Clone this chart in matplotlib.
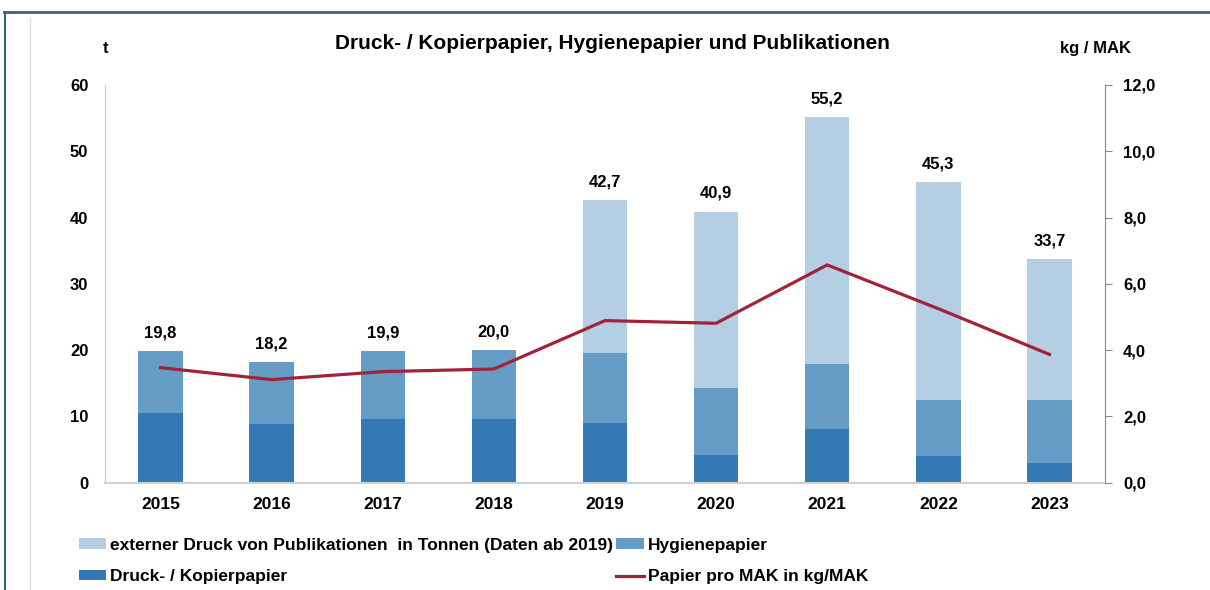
import matplotlib.pyplot as plt
from matplotlib.lines import Line2D
import numpy as np

plt.rcParams['font.family'] = ['Liberation Sans', 'DejaVu Sans']
plt.rcParams['font.weight'] = 'bold'

# data
years = ['2015', '2016', '2017', '2018', '2019', '2020', '2021', '2022', '2023']
totals = [19.8, 18.2, 19.9, 20.0, 42.7, 40.9, 55.2, 45.3, 33.7]
druck = [10.5, 8.85, 9.55, 9.65, 9.05, 4.2, 8.15, 4.1, 2.9]
hygiene_top = [19.8, 18.2, 19.9, 20.0, 19.5, 14.35, 17.85, 12.4, 12.5]
papier_mak = [3.47, 3.11, 3.35, 3.43, 4.89, 4.81, 6.57, 5.25, 3.87]

c_ext = '#B4CEE3'
c_hyg = '#669DC7'
c_druck = '#3479B3'
c_line = '#A0233A'

druck = np.array(druck)
hygiene = np.array(hygiene_top) - druck
extern = np.array(totals) - np.array(hygiene_top)

fig = plt.figure(figsize=(12.1, 5.9), dpi=100)
ax = fig.add_axes([0.0868, 0.1819, 0.8264, 0.6741])
x = np.arange(len(years))
w = 0.4

ax.bar(x, druck, w, color=c_druck, label='Druck- / Kopierpapier')
ax.bar(x, hygiene, w, bottom=druck, color=c_hyg, label='Hygienepapier')
ax.bar(x, extern, w, bottom=druck + hygiene, color=c_ext,
       label='externer Druck von Publikationen  in Tonnen (Daten ab 2019)')

for xi, t in zip(x, totals):
    ax.text(xi, t + 1.6, f'{t:.1f}'.replace('.', ','), ha='center', va='bottom',
            fontsize=12, fontweight='bold')

ax.set_xlim(-0.5, 8.5)
ax.set_ylim(0, 60)
ax.set_yticks(range(0, 61, 10))
ax.set_xticks(x)
ax.set_xticklabels(years)
ax.tick_params(axis='x', labelsize=12.5, length=0, pad=10)
ax.tick_params(axis='y', labelsize=12, length=0, pad=12)
for s in ['top', 'right']:
    ax.spines[s].set_visible(False)
ax.spines['left'].set_color('#C8C8C8')
ax.spines['bottom'].set_color('#D0D0D0')
ax.spines['bottom'].set_linewidth(1.5)

ax2 = ax.twinx()
ax2.plot(x, papier_mak, color=c_line, linewidth=2.3, label='Papier pro MAK in kg/MAK')
ax2.set_ylim(0, 12)
ax2.set_yticks(np.arange(0, 12.1, 2))
ax2.set_yticklabels([f'{v:.1f}'.replace('.', ',') for v in np.arange(0, 12.1, 2)])
ax2.tick_params(axis='y', labelsize=12, length=5, color='#888888', pad=8)
for s in ['top', 'left', 'bottom']:
    ax2.spines[s].set_visible(False)
ax2.spines['right'].set_color('#888888')

fig.text(0.506, 0.927, 'Druck- / Kopierpapier, Hygienepapier und Publikationen',
         ha='center', va='center', fontsize=15, fontweight='bold')
fig.text(0.087, 0.918, 't', ha='center', va='center', fontsize=12, fontweight='bold')
fig.text(0.905, 0.918, 'kg / MAK', ha='center', va='center', fontsize=12, fontweight='bold')

h1, l1 = ax.get_legend_handles_labels()
h2, l2 = ax2.get_legend_handles_labels()
handles = [h1[2], h1[0], h1[1], h2[0]]
labels = [l1[2], l1[0], l1[1], l2[0]]
fig.legend(handles, labels, ncol=2, loc='upper left', bbox_to_anchor=(0.052, 0.115),
           frameon=False, fontsize=12.5, handlelength=1.6, handleheight=0.55,
           handletextpad=0.2, columnspacing=0.2, labelspacing=0.95)

# outer frame like the reference
fig.add_artist(Line2D([0.003, 1.0], [0.98, 0.98], color='#3A6378', linewidth=2))
fig.add_artist(Line2D([0.004, 0.004], [0.0, 0.98], color='#3A6378', linewidth=1.5))
fig.add_artist(Line2D([0.025, 0.025], [0.0, 0.97], color='#DDDDDD', linewidth=1))

fig.savefig('out.png', dpi=100)
